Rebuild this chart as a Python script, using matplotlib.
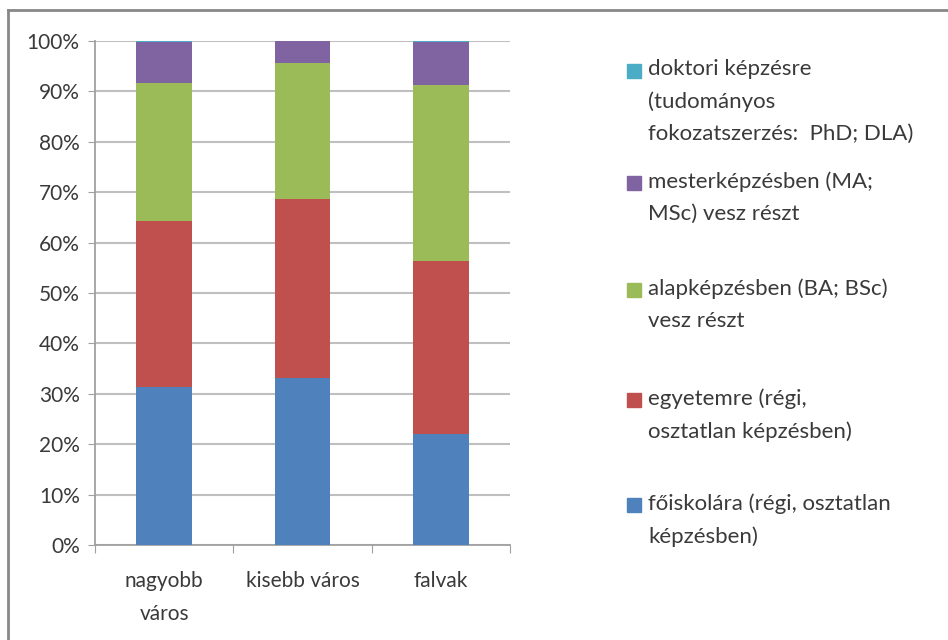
import matplotlib.pyplot as plt
import numpy as np
from matplotlib.lines import Line2D
from matplotlib.patches import Rectangle

plt.rcParams['font.family'] = ['Lato', 'DejaVu Sans']

categories = ['nagyobb\nváros', 'kisebb város', 'falvak']
series_names = ['főiskolára (régi, osztatlan\nképzésben)',
                'egyetemre (régi,\nosztatlan képzésben)',
                'alapképzésben (BA; BSc)\nvesz részt',
                'mesterképzésben (MA;\nMSc) vesz részt',
                'doktori képzésre\n(tudományos\nfokozatszerzés:  PhD; DLA)']
foiskola = [31.4, 33.2, 22.0]
egyetem = [32.9, 35.4, 34.3]
alap = [27.3, 27.0, 35.0]
mester = [8.1, 4.4, 8.4]
doktori = [0.3, 0.0, 0.3]
colors = ['#4F81BD', '#C0504D', '#9BBB59', '#8064A2', '#4BACC6']

fig = plt.figure(figsize=(9.48, 6.4), dpi=100)
ax = fig.add_axes([0.1002, 0.1484, 0.4378, 0.7876])

x = np.arange(len(categories))
bottom = np.zeros(len(categories))
for vals, col in zip([foiskola, egyetem, alap, mester, doktori], colors):
    ax.bar(x, vals, width=0.4, bottom=bottom, color=col, zorder=3)
    bottom += np.array(vals)

txtcol = '#3A3A3A'
ax.set_xlim(-0.5, 2.5)
ax.set_ylim(0, 100)
ax.set_yticks(np.arange(0, 101, 10))
ax.set_yticklabels([f'{v}%' for v in range(0, 101, 10)])
ax.yaxis.grid(True, color='#BFBFBF', linewidth=1.5, zorder=0)
ax.set_xticks([-0.5, 0.5, 1.5, 2.5])
ax.set_xticklabels([])
ax.set_xticks(x, minor=True)
ax.set_xticklabels(categories, minor=True, linespacing=1.8)
ax.tick_params(axis='x', which='minor', length=0, pad=19, labelsize=15, labelcolor=txtcol)
ax.tick_params(axis='x', which='major', length=6, color='#A0A0A0', direction='out')
ax.tick_params(axis='y', length=5, color='#A0A0A0', labelsize=15, labelcolor=txtcol, pad=6)
for s in ['top', 'right']:
    ax.spines[s].set_visible(False)
for s in ['left', 'bottom']:
    ax.spines[s].set_color('#A0A0A0')
    ax.spines[s].set_linewidth(1.3)

# legend drawn by hand, top to bottom
H = 640.0
W = 948.0
leg_y = [71, 183, 290, 400, 505]
for name, col, yy in zip(series_names[::-1], colors[::-1], leg_y):
    fig.patches.append(Rectangle((627 / W, 1 - (yy + 7) / H), 14 / W, 14 / H,
                                 transform=fig.transFigure, color=col))
    fig.text(648 / W, 1 - (yy - 12) / H, name, fontsize=16, color=txtcol,
             va='top', ha='left', linespacing=1.75)

# outer frame
fig.add_artist(Line2D([8 / W, 1], [1 - 10 / H, 1 - 10 / H], color='#888888', linewidth=2))
fig.add_artist(Line2D([8 / W, 8 / W], [0, 1 - 10 / H], color='#888888', linewidth=2))

fig.savefig('out.png', dpi=100)
